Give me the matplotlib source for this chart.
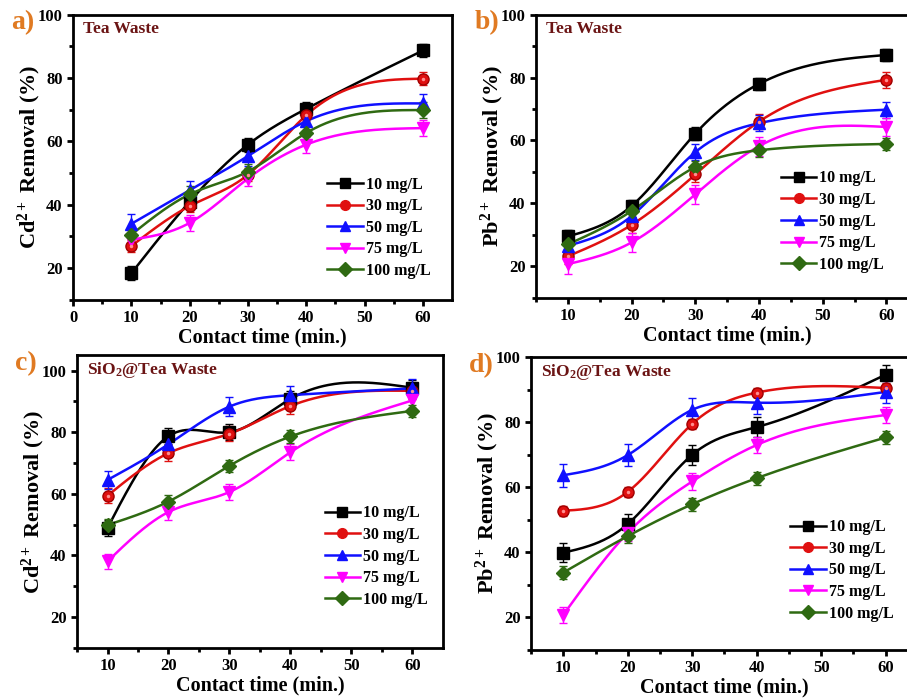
import matplotlib
matplotlib.use('Agg')
import matplotlib.pyplot as plt
import numpy as np

plt.rcParams['font.family'] = ['Liberation Serif', 'DejaVu Serif']
plt.rcParams['font.weight'] = 'bold'
plt.rcParams['mathtext.fontset'] = 'custom'
plt.rcParams['mathtext.rm'] = 'Liberation Serif:bold'
plt.rcParams['mathtext.bf'] = 'Liberation Serif:bold'
plt.rcParams['mathtext.it'] = 'Liberation Serif:bold'

# dados
tempo = [10, 20, 30, 40, 60]
legendas = ['10 mg/L', '30 mg/L', '50 mg/L', '75 mg/L', '100 mg/L']

# a) Cd2+ - Tea Waste
cd_tw = [[18.4, 41.0, 59.0, 70.3, 88.7],
         [27.0, 39.6, 49.5, 68.3, 79.8],
         [34.0, 44.6, 55.4, 66.4, 72.0],
         [29.0, 34.3, 48.3, 59.0, 64.2],
         [30.6, 43.3, 50.5, 62.7, 69.9]]
cd_tw_err = [2.2, 2.0, 3.0, 2.5, 2.5]

# b) Pb2+ - Tea Waste
pb_tw = [[29.5, 39.2, 62.2, 78.0, 87.2],
         [23.2, 33.2, 49.2, 66.0, 79.3],
         [26.5, 36.0, 56.3, 65.5, 69.8],
         [20.7, 27.6, 42.9, 58.2, 64.3],
         [27.0, 37.6, 51.6, 56.9, 58.9]]
pb_tw_err = [2.0, 2.5, 2.5, 3.0, 2.0]

# c) Cd2+ - SiO2@Tea Waste
cd_si = [[48.9, 78.7, 80.0, 90.8, 94.4],
         [59.4, 73.2, 79.5, 88.5, 93.4],
         [64.5, 76.1, 88.3, 92.0, 94.2],
         [38.1, 54.1, 60.6, 73.5, 90.3],
         [49.9, 57.5, 69.1, 78.6, 86.9]]
cd_si_err = [2.5, 2.5, 3.0, 2.5, 2.0]

# d) Pb2+ - SiO2@Tea Waste
pb_si = [[39.9, 48.7, 70.0, 78.5, 94.6],
         [52.8, 58.6, 79.5, 89.1, 90.5],
         [63.7, 69.9, 83.8, 86.0, 89.3],
         [20.8, 46.0, 61.8, 73.0, 82.2],
         [33.8, 45.0, 54.8, 62.8, 75.3]]
pb_si_err = [3.0, 1.5, 3.5, 2.5, 2.0]

cores = ['black', '#e01010', '#1010ff', '#ff00ff', '#2f6a12']
marcadores = ['s', 'o', '^', 'v', 'D']


def spline(x, y, n=200):
    # spline cubica natural so para desenhar a linha suave
    x = np.asarray(x, float)
    y = np.asarray(y, float)
    k = len(x)
    h = np.diff(x)
    A = np.zeros((k, k))
    b = np.zeros(k)
    A[0, 0] = 1
    A[-1, -1] = 1
    for i in range(1, k - 1):
        A[i, i - 1] = h[i - 1]
        A[i, i] = 2 * (h[i - 1] + h[i])
        A[i, i + 1] = h[i]
        b[i] = 3 * ((y[i + 1] - y[i]) / h[i] - (y[i] - y[i - 1]) / h[i - 1])
    c = np.linalg.solve(A, b)
    xs = np.linspace(x[0], x[-1], n)
    ys = np.zeros(n)
    for j, xv in enumerate(xs):
        i = min(np.searchsorted(x, xv, side='right') - 1, k - 2)
        bi = (y[i + 1] - y[i]) / h[i] - h[i] * (2 * c[i] + c[i + 1]) / 3
        di = (c[i + 1] - c[i]) / (3 * h[i])
        t = xv - x[i]
        ys[j] = y[i] + bi * t + c[i] * t ** 2 + di * t ** 3
    return xs, ys


fig = plt.figure(figsize=(9.07, 6.99), dpi=100)

paineis = [
    ('a)', [0.0805, 0.571, 0.418, 0.408], cd_tw, cd_tw_err, 'Cd', 'Tea Waste', (0, 65), (10, 100), [0, 10, 20, 30, 40, 50, 60], (0.65, 0.045)),
    ('b)', [0.591, 0.574, 0.4215, 0.405], pb_tw, pb_tw_err, 'Pb', 'Tea Waste', (5, 65), (10, 100), [10, 20, 30, 40, 50, 60], (0.62, 0.06)),
    ('c)', [0.0849, 0.073, 0.4035, 0.419], cd_si, cd_si_err, 'Cd', r'SiO$_2$@Tea Waste', (5, 65), (20, 105), [10, 20, 30, 40, 50, 60], (0.655, 0.11)),
    ('d)', [0.5855, 0.0701, 0.4265, 0.419], pb_si, pb_si_err, 'Pb', r'SiO$_2$@Tea Waste', (5, 65), (10, 100), [10, 20, 30, 40, 50, 60], (0.65, 0.07)),
]

for letra, pos, dados, errs, ion, titulo, xl, yl, xt, leg in paineis:
    ax = fig.add_axes(pos)
    for k in range(5):
        xs, ys = spline(tempo, dados[k])
        ax.plot(xs, ys, color=cores[k], lw=1.8, zorder=2)
        ax.errorbar(tempo, dados[k], yerr=errs[k], fmt='none', ecolor=cores[k],
                    elinewidth=1.0, capsize=3, capthick=1.0, zorder=2)
        ax.plot(tempo, dados[k], linestyle='none', marker=marcadores[k], color=cores[k],
                markersize=8 if k != 4 else 7.5, markeredgecolor=cores[k] if k != 1 else '#a00000', zorder=3)
        if k == 1:
            # brilho do marcador vermelho
            ax.plot(tempo, dados[k], linestyle='none', marker='o', color='#ff9090',
                    markersize=2.5, markeredgewidth=0, zorder=4)
        # handle da legenda
        ax.plot([], [], color=cores[k], lw=1.8, marker=marcadores[k], markersize=7,
                label=legendas[k])
    ax.set_xlim(xl)
    ax.set_ylim(yl)
    ax.set_xticks(xt)
    ax.set_yticks(np.arange(20, 101, 20))
    ax.set_xticks(np.arange(5, 61, 5), minor=True)
    ax.set_yticks(np.arange(10, 101, 10), minor=True)
    ax.tick_params(which='major', direction='out', length=4, width=2, labelsize=12)
    ax.tick_params(which='minor', direction='out', length=3, width=2)
    ax.tick_params(top=False, right=False, which='both')
    for s in ax.spines.values():
        s.set_linewidth(2)
    for lab in ax.get_xticklabels() + ax.get_yticklabels():
        lab.set_fontweight('bold')
    ax.set_xlabel('Contact time (min.)', fontsize=14.5, fontweight='bold', labelpad=1)
    ax.set_ylabel(ion + r'$^{2+}$ Removal (%)', fontsize=16, fontweight='bold', labelpad=-4)
    ax.text(0.027, 0.95, titulo, transform=ax.transAxes, color='#6b1414',
            fontsize=12.5, fontweight='bold', va='center', ha='left')
    ax.legend(loc='lower left', bbox_to_anchor=leg, frameon=False,
              handlelength=2.2, handletextpad=0.2, labelspacing=0.35, borderpad=0,
              prop={'weight': 'bold', 'size': 11.5})
    # rotulo do painel
    fig.text(pos[0] - 0.068, pos[1] + pos[3] - 0.012, letra, color='#e07a22',
             fontsize=20, fontweight='bold', va='center', ha='left')

fig.savefig('out.png', dpi=100)
